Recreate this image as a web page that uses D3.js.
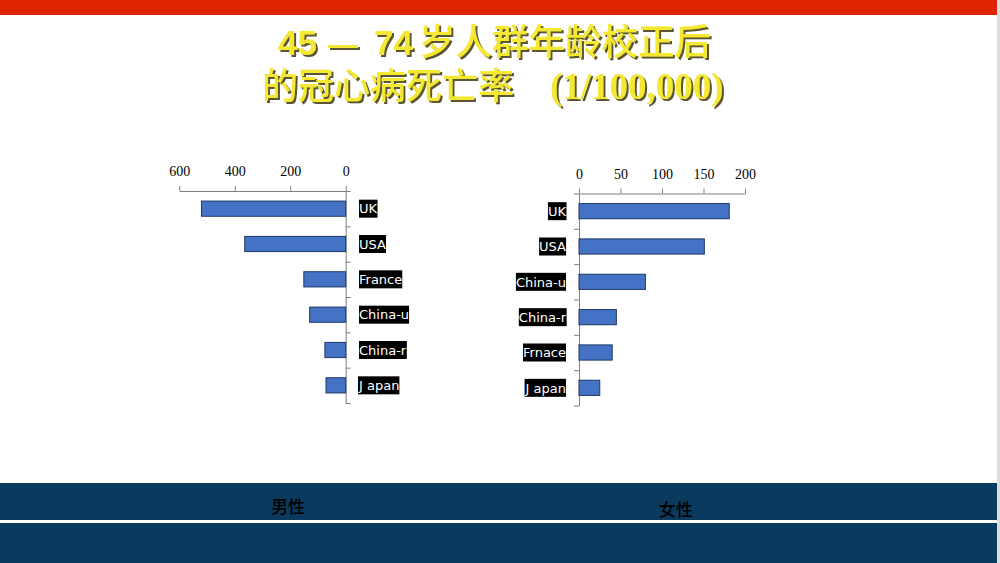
<!DOCTYPE html>
<html>
<head>
  <meta charset="utf-8">
  <title>45-74岁人群年龄校正后的冠心病死亡率</title>
  <style>
    body { margin: 0; background: #fff; }
    svg { display: block; }
    .tick text { font-family: "Liberation Serif", serif; font-size: 14px; fill: #000; }
    .axis path, .axis line { stroke: #808080; }
    .bar { fill: #4472c4; stroke: #1f3766; stroke-width: 1; }
    .lbl { font-family: "DejaVu Sans", sans-serif; font-size: 13px; fill: #fff; }
  </style>
  <script src="https://d3js.org/d3.v7.min.js"></script>
</head>
<body>
<svg width="1000" height="563"></svg>
<script>
"use strict";

// 男性
var maleCats = ["UK", "USA", "France", "China-u", "China-r", "J apan"];
var maleVals = [520, 364, 151, 130, 75, 71];
var maleTicks = [0, 200, 400, 600];

// 女性
var femaleCats = ["UK", "USA", "China-u", "China-r", "Frnace", "J apan"];
var femaleVals = [181, 151, 80, 45, 40, 25];
var femaleTicks = [0, 50, 100, 150, 200];

var svg = d3.select("svg");

var defs = svg.append("defs");
defs.append("filter").attr("id", "shadow")
    .attr("x", "-5%").attr("y", "-20%").attr("width", "115%").attr("height", "150%")
  .append("feDropShadow")
    .attr("dx", 2).attr("dy", 2).attr("stdDeviation", 0.6)
    .attr("flood-color", "#5a5530").attr("flood-opacity", 1);

// slide background
svg.append("rect").attr("x", 997).attr("y", 0).attr("width", 3).attr("height", 563).attr("fill", "#dcdcdc");
svg.append("rect").attr("x", 0).attr("y", 0).attr("width", 997).attr("height", 15).attr("fill", "#de2500");
svg.append("rect").attr("x", 0).attr("y", 483).attr("width", 997).attr("height", 80).attr("fill", "#0a3a5e");
svg.append("rect").attr("x", 0).attr("y", 520).attr("width", 997).attr("height", 3).attr("fill", "#fff");

// title, one text per piece
var cjk = "'Noto Sans CJK SC', sans-serif";
var sans = "'Liberation Sans', Arial, sans-serif";
function title(y, parts) {
  parts.forEach(function(p) {
    svg.append("text")
        .attr("x", p[1]).attr("y", y)
        .attr("fill", "#f4e830")
        .attr("filter", "url(#shadow)")
        .style("font-family", p[2])
        .style("font-weight", p[3])
        .style("font-size", p[4] + "px")
        .text(p[0]);
  });
}
title(55, [
  ["45", 278, sans, "bold", 35],
  ["—", 328, sans, "bold", 30],
  ["74", 374, sans, "bold", 35],
  ["岁人群年龄校正后", 419, cjk, "500", 36.5]
]);
title(99, [
  ["的冠心病死亡率", 262, cjk, "500", 36],
  ["(1/100,000)", 550, "'Liberation Serif', serif", "bold", 37]
]);

function drawChart(cats, vals, ticks, opt) {
  var g = svg.append("g");
  var x = d3.scaleLinear().domain([0, d3.max(ticks)]).range(opt.xRange);
  var y = d3.scaleBand().domain(cats).range(opt.yRange).paddingInner(0.57).paddingOuter(0.285);
  var yEdge = d3.scaleLinear().domain([0, cats.length]).range(opt.yRange);
  var x0 = x(0);

  g.append("g")
      .attr("class", "axis")
      .attr("transform", "translate(0," + opt.yRange[0] + ")")
      .call(d3.axisTop(x).tickValues(ticks).tickSize(5).tickSizeOuter(0).tickPadding(10));

  var side = opt.left ? d3.axisRight(yEdge) : d3.axisLeft(yEdge);
  g.append("g")
      .attr("class", "axis")
      .attr("transform", "translate(" + x0 + ",0)")
      .call(side.ticks(cats.length).tickSize(5).tickSizeOuter(0).tickFormat(""));

  g.selectAll(".bar")
    .data(vals)
    .enter().append("rect")
      .attr("class", "bar")
      .attr("x", function(d) { return Math.min(x(d), x0); })
      .attr("y", function(d, i) { return y(cats[i]); })
      .attr("width", function(d) { return Math.abs(x(d) - x0); })
      .attr("height", y.bandwidth());

  var lab = g.selectAll(".lab")
    .data(cats)
    .enter().append("g")
      .attr("transform", function(d) {
        return "translate(" + opt.labelX + "," + (y(d) + y.bandwidth() / 2) + ")";
      });
  var txt = lab.append("text")
      .attr("class", "lbl")
      .attr("text-anchor", opt.left ? "start" : "end")
      .attr("dy", "0.36em")
      .text(function(d) { return d; });
  txt.each(function() {
    var b = this.getBBox();
    d3.select(this.parentNode).insert("rect", "text")
        .attr("x", b.x).attr("y", -9)
        .attr("width", b.width).attr("height", 18)
        .attr("fill", "#000");
  });
}

drawChart(maleCats, maleVals, maleTicks, {
  xRange: [345.7, 179.3], yRange: [191, 403], left: true, labelX: 359
});
drawChart(femaleCats, femaleVals, femaleTicks, {
  xRange: [579, 745], yRange: [193.5, 405.5], left: false, labelX: 566
});

// footer labels
svg.append("text").attr("x", 288).attr("y", 513).attr("text-anchor", "middle")
    .style("font-family", cjk).style("font-size", "17px").style("font-weight", "500")
    .attr("fill", "#000").text("男性");
svg.append("text").attr("x", 676).attr("y", 516).attr("text-anchor", "middle")
    .style("font-family", cjk).style("font-size", "17px").style("font-weight", "500")
    .attr("fill", "#000").text("女性");
</script>
</body>
</html>
